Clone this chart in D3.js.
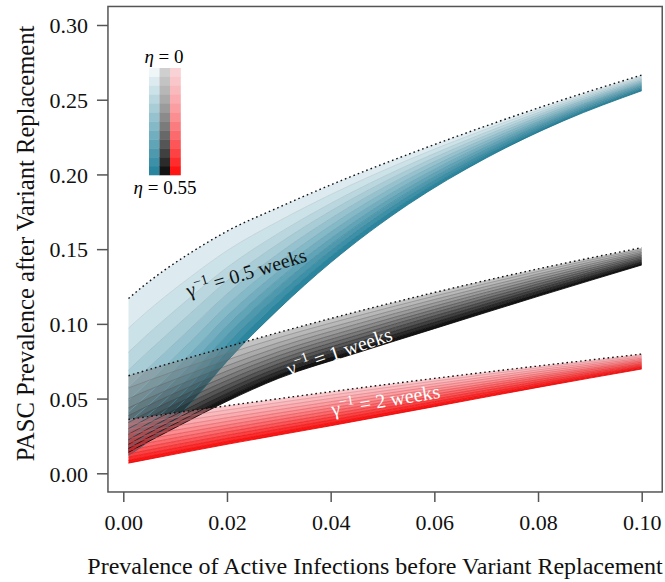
<!DOCTYPE html>
<html><head><meta charset="utf-8">
<script src="https://cdn.jsdelivr.net/npm/d3@7"></script>
<style>
body{margin:0;background:#fff}
svg{display:block}
text{font-family:"Liberation Serif","DejaVu Serif",serif}
</style>
</head><body>
<svg id="c" width="665" height="582"></svg>
<script>
// ---------- data ----------
const etaValues = [0,0.05,0.10,0.15,0.20,0.25,0.30,0.35,0.40,0.45,0.50,0.55];
const xTickValues = [0,0.02,0.04,0.06,0.08,0.10];
const yTickValues = [0,0.05,0.10,0.15,0.20,0.25,0.30];

// gamma^-1 = 0.5 weeks
const blueP = [0.001,0.004,0.008,0.013,0.02,0.03,0.04,0.055,0.07,0.085,0.1];
const blueCurves = [
 [0.1170,0.1257,0.1361,0.1476,0.1620,0.1780,0.1930,0.2135,0.2325,0.2502,0.2665],
 [0.0971,0.1065,0.1181,0.1315,0.1490,0.1688,0.1865,0.2098,0.2303,0.2488,0.2655],
 [0.0810,0.0908,0.1031,0.1179,0.1377,0.1607,0.1806,0.2063,0.2282,0.2475,0.2646],
 [0.0690,0.0789,0.0915,0.1072,0.1287,0.1538,0.1755,0.2031,0.2262,0.2462,0.2636],
 [0.0580,0.0679,0.0807,0.0970,0.1200,0.1472,0.1705,0.2000,0.2242,0.2449,0.2627],
 [0.0490,0.0586,0.0715,0.0882,0.1123,0.1411,0.1658,0.1970,0.2223,0.2436,0.2617],
 [0.0410,0.0504,0.0631,0.0802,0.1053,0.1354,0.1614,0.1940,0.2204,0.2423,0.2608],
 [0.0341,0.0430,0.0556,0.0728,0.0987,0.1301,0.1571,0.1912,0.2185,0.2411,0.2598],
 [0.0280,0.0365,0.0487,0.0659,0.0924,0.1249,0.1530,0.1883,0.2166,0.2398,0.2589],
 [0.0220,0.0301,0.0419,0.0592,0.0863,0.1197,0.1489,0.1855,0.2147,0.2385,0.2579],
 [0.0170,0.0245,0.0360,0.0531,0.0807,0.1149,0.1450,0.1827,0.2129,0.2373,0.2570],
 [0.0120,0.0190,0.0300,0.0470,0.0750,0.1100,0.1410,0.1800,0.2110,0.2360,0.2560]
];

// gamma^-1 = 1 weeks
const blackP = [0.001,0.005,0.01,0.02,0.03,0.045,0.06,0.08,0.1];
const blackCurves = [
 [0.0653,0.0695,0.0746,0.0846,0.0943,0.1081,0.1210,0.1368,0.1510],
 [0.0571,0.0623,0.0685,0.0800,0.0908,0.1052,0.1186,0.1351,0.1499],
 [0.0499,0.0560,0.0629,0.0758,0.0875,0.1024,0.1163,0.1334,0.1489],
 [0.0438,0.0504,0.0580,0.0720,0.0844,0.0998,0.1140,0.1317,0.1478],
 [0.0386,0.0456,0.0537,0.0685,0.0814,0.0972,0.1118,0.1300,0.1468],
 [0.0340,0.0413,0.0497,0.0652,0.0787,0.0947,0.1096,0.1283,0.1457],
 [0.0299,0.0374,0.0461,0.0621,0.0760,0.0923,0.1075,0.1267,0.1447],
 [0.0261,0.0337,0.0426,0.0591,0.0734,0.0898,0.1053,0.1250,0.1436],
 [0.0225,0.0302,0.0392,0.0562,0.0708,0.0874,0.1031,0.1234,0.1426],
 [0.0194,0.0271,0.0361,0.0534,0.0684,0.0851,0.1010,0.1217,0.1415],
 [0.0166,0.0242,0.0332,0.0508,0.0660,0.0828,0.0989,0.1201,0.1405],
 [0.0140,0.0215,0.0305,0.0482,0.0636,0.0805,0.0968,0.1184,0.1394]
];

// gamma^-1 = 2 weeks
const redP = [0.001,0.02,0.04,0.06,0.08,0.1];
const redCurves = [
 [0.0361,0.0452,0.0546,0.0635,0.0718,0.0798],
 [0.0326,0.0424,0.0523,0.0617,0.0705,0.0789],
 [0.0294,0.0398,0.0501,0.0599,0.0692,0.0780],
 [0.0263,0.0372,0.0479,0.0582,0.0679,0.0771],
 [0.0234,0.0347,0.0458,0.0564,0.0665,0.0762],
 [0.0206,0.0323,0.0437,0.0547,0.0652,0.0753],
 [0.0179,0.0300,0.0417,0.0530,0.0640,0.0744],
 [0.0154,0.0277,0.0396,0.0513,0.0627,0.0734],
 [0.0130,0.0255,0.0376,0.0496,0.0614,0.0725],
 [0.0108,0.0234,0.0356,0.0479,0.0601,0.0716],
 [0.0087,0.0213,0.0337,0.0462,0.0588,0.0707],
 [0.0068,0.0194,0.0318,0.0446,0.0575,0.0698]
];

const bandLabels = [
  {gam:"0.5", p:0.0241, v:0.1298, angle:-17, fill:"#111"},
  {gam:"1",   p:0.0421, v:0.0772, angle:-19, fill:"#fff"},
  {gam:"2",   p:0.0508, v:0.0445, angle:-9.5, fill:"#fff"}
];

// ---------- drawing ----------
const svg = d3.select("#c");
const x = d3.scaleLinear().domain([0,0.1]).range([123.3,641.7]);
const y = d3.scaleLinear().domain([0,0.3]).range([473.3,25]);
const bx0 = x(-0.00296), bx1 = x(0.10396), by0 = y(0.3124), by1 = y(-0.0125);
const n = etaValues.length;

const groups = [
  {P:blueP,  C:blueCurves,  light:"#eef5f8", dark:"#1f7f99", opLo:0.95, opHi:0.95},
  {P:blackP, C:blackCurves, light:"#8c8c8c", dark:"#000000", opLo:0.42, opHi:0.92},
  {P:redP,   C:redCurves,   light:"#f29aa3", dark:"#ff0000", opLo:0.45, opHi:0.92}
];
groups.forEach(g=>{
  g.col = t=>d3.interpolateRgb(g.light,g.dark)(t);
  g.op = k=>g.opLo + (g.opHi-g.opLo)*k/(n-1);
  g.seen = k=>d3.interpolateRgb("#ffffff", g.col(k/(n-1)))(g.op(k));
});

const area = d3.area().x(d=>x(d.p)).y0(d=>y(d.bot)).y1(d=>y(d.top)).curve(d3.curveMonotoneX);
const line = d3.line().x(d=>x(d.p)).y(d=>y(d.v)).curve(d3.curveMonotoneX);

// fills
groups.forEach(g=>{
  const gg = svg.append("g");
  for(let k=0;k<n-1;k++){
    const pts = g.P.map((p,i)=>({p, top:g.C[k][i], bot:g.C[k+1][i]}));
    gg.append("path").attr("d", area(pts))
      .attr("fill", g.col((k+1)/(n-1))).attr("fill-opacity", g.op(k+1)).attr("stroke","none");
  }
});
// curve lines
groups.forEach(g=>{
  const gg = svg.append("g");
  for(let k=1;k<n;k++){
    const pts = g.P.map((p,i)=>({p, v:g.C[k][i]}));
    gg.append("path").attr("d", line(pts)).attr("fill","none")
      .attr("stroke", d3.color(g.col(k/(n-1))).darker(0.35)).attr("stroke-width",0.8)
      .attr("stroke-opacity",Math.min(1,g.op(k)+0.15));
  }
});
// eta = 0 dotted lines
groups.forEach(g=>{
  const pts0 = g.P.map((p,i)=>({p, v:g.C[0][i]}));
  svg.append("path").attr("d", line(pts0)).attr("fill","none")
    .attr("stroke","#111").attr("stroke-width",1.4).attr("stroke-dasharray","1.6,3");
});

// band labels
bandLabels.forEach(b=>{
  const t = svg.append("text")
    .attr("transform", `translate(${x(b.p)},${y(b.v)}) rotate(${b.angle})`)
    .attr("text-anchor","middle").attr("font-size",20).attr("fill",b.fill);
  t.append("tspan").text("γ");
  t.append("tspan").attr("dy",-8).attr("font-size",14).text("−1");
  t.append("tspan").attr("dy",8).text(" = " + b.gam + " weeks");
});

// legend
const legX = 149, legW = 10.5, legTop = 68, legBot = 175;
const legStep = (legBot-legTop)/n;
groups.forEach((g,ci)=>{
  etaValues.forEach((e,k)=>{
    svg.append("rect").attr("x",legX+ci*legW).attr("y",legTop+k*legStep)
      .attr("width",legW+0.3).attr("height",legStep+0.3)
      .attr("fill",g.seen(k));
  });
});
const lt1 = svg.append("text").attr("x",164).attr("y",63).attr("text-anchor","middle").attr("font-size",19);
lt1.append("tspan").attr("font-style","italic").text("η");
lt1.append("tspan").text(" = " + etaValues[0]);
const lt2 = svg.append("text").attr("x",165).attr("y",194).attr("text-anchor","middle").attr("font-size",19);
lt2.append("tspan").attr("font-style","italic").text("η");
lt2.append("tspan").text(" = " + etaValues[n-1]);

// box
svg.append("rect").attr("x",bx0).attr("y",by0).attr("width",bx1-bx0).attr("height",by1-by0)
  .attr("fill","none").attr("stroke","#555").attr("stroke-width",1.5);

// axes
const xa = svg.append("g").attr("transform",`translate(0,${by1})`)
  .call(d3.axisBottom(x).tickValues(xTickValues).tickFormat(d3.format(".2f")).tickSize(10).tickPadding(12));
const ya = svg.append("g").attr("transform",`translate(${bx0},0)`)
  .call(d3.axisLeft(y).tickValues(yTickValues).tickFormat(d3.format(".2f")).tickSize(11).tickPadding(9));
[xa,ya].forEach(a=>{
  a.select(".domain").remove();
  a.selectAll(".tick line").attr("stroke","#555").attr("stroke-width",1.5);
  a.selectAll(".tick text").attr("font-family","Liberation Serif, serif").attr("font-size",22).attr("fill","#111");
});
ya.selectAll(".tick text").attr("dy","0.35em");

// titles
svg.append("text").attr("x",(88+662)/2).attr("y",574).attr("text-anchor","middle")
  .attr("font-size",24).attr("fill","#111").text("Prevalence of Active Infections before Variant Replacement");
svg.append("text").attr("transform",`translate(34,${(22+465)/2}) rotate(-90)`).attr("text-anchor","middle")
  .attr("font-size",24.6).attr("fill","#111").text("PASC Prevalence after Variant Replacement");
</script>
</body></html>
